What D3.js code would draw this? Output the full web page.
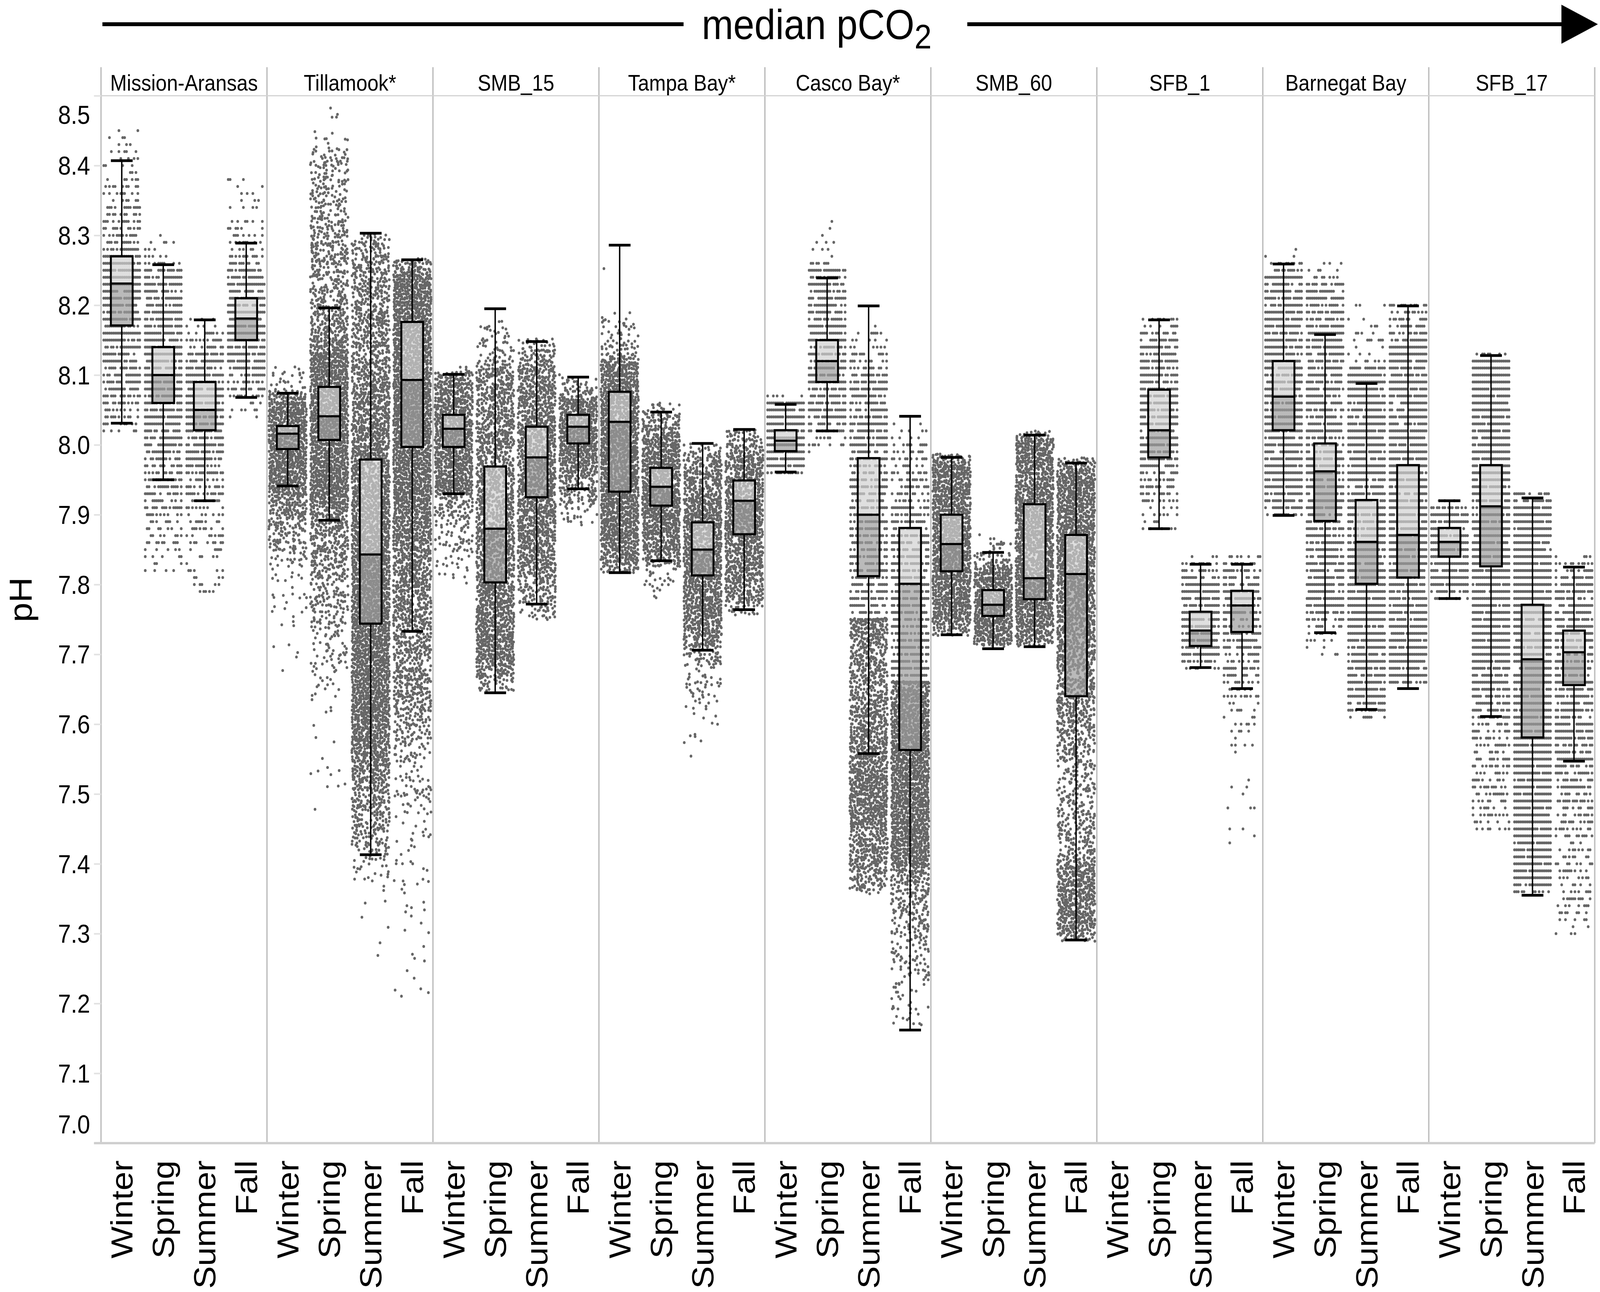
<!DOCTYPE html>
<html>
<head>
<meta charset="utf-8">
<script src="https://cdn.jsdelivr.net/npm/d3@7"></script>
<style>
  html, body { margin: 0; padding: 0; background: #fff; overflow: hidden; }
  #chart svg { display: block; width: 100vw; height: 100vh; }
  svg text { font-family: "Liberation Sans", Arial, sans-serif; }
</style>
</head>
<body>
<div id="chart"></div>
<script>
// Sites ordered by median pCO2, seasons inside each site
var sites = ["Mission-Aransas", "Tillamook*", "SMB_15", "Tampa Bay*", "Casco Bay*",
             "SMB_60", "SFB_1", "Barnegat Bay", "SFB_17"];
var seasons = ["Winter", "Spring", "Summer", "Fall"];
var yTicks = [7.0, 7.1, 7.2, 7.3, 7.4, 7.5, 7.6, 7.7, 7.8, 7.9, 8.0, 8.1, 8.2, 8.3, 8.4, 8.5];

// box statistics, one row per site: [Winter, Spring, Summer, Fall]
var whiskerHigh = [
  [8.407, 8.258, 8.179, 8.289], [8.074, 8.196, 8.303, 8.265], [8.101, 8.195, 8.148, 8.097],
  [8.286, 8.047, 8.002, 8.022], [8.058, 8.239, 8.199, 8.041], [7.982, 7.846, 8.014, 7.974],
  [null, 8.179, 7.829, 7.829], [8.259, 8.158, 8.088, 8.199], [7.920, 8.128, 7.924, 7.825]];
var upperQuartile = [
  [8.270, 8.140, 8.090, 8.210], [8.027, 8.083, 7.979, 8.176], [8.043, 7.969, 8.026, 8.043],
  [8.076, 7.967, 7.889, 7.949], [8.021, 8.150, 7.981, 7.881], [7.900, 7.792, 7.915, 7.871],
  [null, 8.079, 7.761, 7.791], [8.120, 8.002, 7.921, 7.971], [7.881, 7.971, 7.771, 7.734]];
var medians = [
  [8.231, 8.100, 8.050, 8.181], [8.016, 8.041, 7.843, 8.093], [8.023, 7.880, 7.982, 8.026],
  [8.033, 7.940, 7.850, 7.920], [8.006, 8.120, 7.900, 7.801], [7.858, 7.771, 7.809, 7.815],
  [null, 8.021, 7.734, 7.770], [8.069, 7.962, 7.861, 7.871], [7.861, 7.912, 7.693, 7.703]];
var lowerQuartile = [
  [8.171, 8.060, 8.021, 8.150], [7.994, 8.007, 7.744, 7.997], [7.997, 7.803, 7.925, 8.002],
  [7.933, 7.913, 7.813, 7.872], [7.991, 8.090, 7.812, 7.563], [7.819, 7.755, 7.779, 7.640],
  [null, 7.982, 7.712, 7.732], [8.021, 7.891, 7.801, 7.810], [7.840, 7.826, 7.581, 7.656]];
var whiskerLow = [
  [8.031, 7.950, 7.920, 8.068], [7.941, 7.892, 7.413, 7.733], [7.930, 7.645, 7.772, 7.937],
  [7.817, 7.834, 7.706, 7.764], [7.961, 8.020, 7.558, 7.162], [7.728, 7.708, 7.711, 7.291],
  [null, 7.880, 7.681, 7.651], [7.899, 7.731, 7.621, 7.651], [7.780, 7.611, 7.355, 7.547]];

// observation clouds: [pH, share of the column width covered], top to bottom
var cloudKnots = [
  [ [[8.45,0.12],[8.40,0.25],[8.35,0.45],[8.30,0.75],[8.25,0.9],[8.15,0.9],[8.08,0.7],[8.03,0.4],[8.02,0.2]],
    [[8.31,0.08],[8.27,0.3],[8.24,0.7],[8.10,0.9],[8.00,0.8],[7.95,0.6],[7.90,0.45],[7.85,0.35],[7.82,0.2]],
    [[8.18,0.2],[8.15,0.5],[8.12,0.8],[8.00,0.85],[7.95,0.6],[7.90,0.4],[7.85,0.3],[7.79,0.15]],
    [[8.38,0.08],[8.33,0.15],[8.30,0.35],[8.26,0.6],[8.22,0.85],[8.12,0.85],[8.08,0.5],[8.04,0.2]] ],
  [ [[8.11,0.05],[8.08,0.2],[8.06,0.95],[7.98,1],[7.94,0.85],[7.90,0.5],[7.85,0.3],[7.82,0.08],[7.70,0.01],[7.63,0.006]],
    [[8.51,0.02],[8.45,0.02],[8.40,0.3],[8.30,0.4],[8.20,0.5],[8.14,0.75],[8.13,1],[7.93,1],[7.90,0.65],[7.80,0.4],[7.72,0.18],[7.65,0.03],[7.47,0.02]],
    [[8.30,0.3],[8.25,0.5],[8.15,0.6],[8.05,0.75],[7.95,0.9],[7.85,1],[7.62,1],[7.55,0.8],[7.45,0.35],[7.41,0.12],[7.30,0.01],[7.25,0.006]],
    [[8.265,0.35],[8.24,1],[7.92,1],[7.85,0.8],[7.75,0.6],[7.63,0.5],[7.55,0.14],[7.40,0.05],[7.30,0.02],[7.21,0.02]] ],
  [ [[8.11,0.1],[8.09,0.85],[7.94,0.95],[7.92,0.45],[7.85,0.22],[7.80,0.1]],
    [[8.18,0.05],[8.13,0.25],[8.10,0.55],[7.95,0.7],[7.80,0.8],[7.70,0.85],[7.67,0.55],[7.645,0.2]],
    [[8.15,0.25],[8.12,0.55],[8.08,0.75],[7.90,0.85],[7.82,0.65],[7.78,0.4],[7.75,0.15]],
    [[8.10,0.1],[8.07,0.55],[8.06,0.95],[7.98,0.95],[7.95,0.5],[7.90,0.2],[7.885,0.1]] ],
  [ [[8.29,0.01],[8.20,0.01],[8.13,0.35],[8.11,0.95],[7.87,1],[7.83,0.75],[7.815,0.3]],
    [[8.06,0.1],[8.03,0.55],[8.00,0.95],[7.87,0.95],[7.84,0.55],[7.82,0.15],[7.78,0.02]],
    [[8.00,0.25],[7.96,0.65],[7.90,0.9],[7.75,0.9],[7.71,0.55],[7.68,0.15],[7.60,0.05],[7.54,0.02]],
    [[8.02,0.3],[7.98,0.75],[7.90,0.9],[7.80,0.75],[7.77,0.5],[7.755,0.2]] ],
  [ [[8.07,0.3],[8.06,0.9],[7.97,0.9],[7.96,0.5]],
    [[8.32,0.05],[8.27,0.1],[8.26,0.4],[8.25,0.8],[8.04,0.8],[8.02,0.5],[7.99,0.05]],
    [[8.17,0.05],[8.14,0.5],[8.10,0.7],[8.05,0.8],[7.95,0.75],[7.75,0.75],[7.70,0.55],[7.60,0.75],[7.50,0.95],[7.45,0.8],[7.38,0.55],[7.355,0.2]],
    [[8.03,0.1],[8.00,0.4],[7.95,0.6],[7.80,0.75],[7.66,0.8],[7.62,1],[7.40,1],[7.38,0.5],[7.30,0.25],[7.20,0.15],[7.17,0.1]] ],
  [ [[7.985,0.45],[7.97,0.95],[7.75,0.95],[7.73,0.45],[7.725,0.1]],
    [[7.87,0.05],[7.83,0.35],[7.82,0.95],[7.72,0.95],[7.71,0.3]],
    [[8.02,0.35],[8.00,0.9],[7.75,0.95],[7.72,0.6],[7.71,0.2]],
    [[7.98,0.45],[7.96,0.95],[7.78,0.9],[7.70,0.65],[7.60,0.5],[7.50,0.35],[7.42,0.4],[7.38,0.85],[7.31,0.85],[7.29,0.3]] ],
  [ [],
    [[8.18,0.3],[8.16,0.5],[8.12,0.8],[7.97,0.8],[7.92,0.5],[7.88,0.3]],
    [[7.835,0.3],[7.82,0.6],[7.80,0.85],[7.70,0.85],[7.68,0.5]],
    [[7.835,0.3],[7.82,0.6],[7.70,0.7],[7.66,0.5],[7.64,0.3],[7.60,0.2],[7.55,0.06],[7.43,0.05]] ],
  [ [[8.275,0.15],[8.26,0.35],[8.24,0.9],[7.92,0.9],[7.90,0.6],[7.895,0.3]],
    [[8.255,0.2],[8.24,0.45],[8.22,0.8],[7.76,0.85],[7.73,0.4],[7.69,0.05]],
    [[8.20,0.05],[8.14,0.2],[8.12,0.4],[8.10,0.9],[7.64,0.9],[7.62,0.5],[7.605,0.3]],
    [[8.20,0.3],[8.18,0.5],[8.14,0.9],[7.67,0.9],[7.655,0.5]] ],
  [ [[7.92,0.3],[7.90,0.9],[7.80,0.9],[7.78,0.4]],
    [[8.13,0.4],[8.12,0.95],[7.70,0.95],[7.60,0.6],[7.50,0.5],[7.45,0.3]],
    [[7.925,0.4],[7.91,0.95],[7.38,0.95],[7.36,0.5]],
    [[7.84,0.2],[7.83,0.5],[7.80,0.8],[7.55,0.8],[7.45,0.45],[7.35,0.35],[7.30,0.15]] ] ];

// readings reported to 0.01 pH show as rows above this pH; 9 = none, 0 = all
var rowsAbove = [[0, 0, 0, 0], [9, 9, 9, 9], [9, 9, 9, 9], [9, 9, 9, 9], [0, 0, 7.75, 7.66],
                 [9, 9, 9, 9], [0, 0, 0, 0], [0, 0, 0, 0], [0, 0, 0, 0]];

var svgWidth = 4562;
var svgHeight = 3307;
var plot = { left: 288, right: 4547, top: 245, bottom: 2926, header: 172 };

var svg = d3.select("#chart")
  .append("svg")
  .attr("viewBox", `0 0 ${svgWidth} ${svgHeight}`)
  .attr("preserveAspectRatio", "none");

var x0 = d3.scaleBand().domain(sites).range([plot.left, plot.right]);
var x1 = d3.scaleBand().domain(seasons).range([0, x0.bandwidth()]);
var y = d3.scaleLinear().domain([7.0, 8.5]).range([plot.bottom, plot.top]);

var cloudW = 108, boxW = 62, dotR = 3.8;

// ordered dither so the density bands read as scattered points
function dither(a, b, c) {
  var h = (a * 374761393 + b * 668265263 + c * 1274126177) | 0;
  h = Math.imul(h ^ (h >>> 13), 1274126177);
  h = h ^ (h >>> 16);
  return (h >>> 0) / 4294967296;
}

var dots = [];
sites.forEach(function(site, si) {
  seasons.forEach(function(season, qi) {
    var knots = cloudKnots[si][qi];
    if (!knots.length) return;
    var dens = d3.scaleLinear()
      .domain(knots.map(k => k[0]))
      .range(knots.map(k => k[1]))
      .clamp(true);
    var top = knots[0][0], bottom = knots[knots.length - 1][0];
    var left = x0(site) + x1(season) + (x1.bandwidth() - cloudW) / 2;
    var seed = si * 4 + qi + 1;
    var split = rowsAbove[si][qi];
    // rows of 0.01 readings
    if (split < top) {
      var n = 20, sp = cloudW / n;
      for (var lv = Math.round(top * 100); lv >= Math.ceil(Math.max(bottom, split) * 100 - 1e-6); lv--) {
        var ph = lv / 100, d = dens(ph);
        for (var k = 0; k < n; k++) {
          if (dither(k, lv, seed) < d) dots.push({ x: left + (k + 0.5) * sp, ph: ph });
        }
      }
    }
    // continuous readings
    var sTop = Math.min(top, split);
    if (sTop > bottom) {
      var m = 18, sw = cloudW / m, step = 0.0035;
      for (var r = 0; sTop - r * step >= bottom; r++) {
        var p = sTop - r * step, dd = dens(p);
        for (var j = 0; j < m; j++) {
          if (dither(j, r, seed) < dd) {
            dots.push({
              x: left + (j + 0.5) * sw + (dither(j, r, seed + 101) - 0.5) * sw * 0.9,
              ph: p + (dither(j, r, seed + 211) - 0.5) * step
            });
          }
        }
      }
    }
  });
});

// frame: panel separators, plot top line, bottom axis line
svg.append("g")
  .selectAll("line")
  .data(sites.map(s => x0(s)).concat([plot.right]))
  .join("line")
  .attr("x1", d => d).attr("x2", d => d)
  .attr("y1", plot.header).attr("y2", plot.bottom)
  .attr("stroke", "#bfbfbf").attr("stroke-width", 4);

svg.append("line")
  .attr("x1", plot.left).attr("x2", plot.right)
  .attr("y1", plot.top).attr("y2", plot.top)
  .attr("stroke", "#d2d2d2").attr("stroke-width", 3);

// y axis
var yAxis = svg.append("g")
  .attr("transform", `translate(${plot.left},0)`)
  .call(d3.axisLeft(y).tickValues(yTicks).tickSize(20).tickPadding(11).tickFormat(d3.format(".1f")));
yAxis.select(".domain").remove();
yAxis.selectAll(".tick line").attr("stroke", "#e2e2e2").attr("stroke-width", 4);
yAxis.selectAll(".tick text")
  .attr("font-size", 66)
  .attr("fill", "#000")
  .attr("font-family", "Liberation Sans, Arial, sans-serif")
  .attr("dy", d => d === 8.5 ? "1.08em" : d === 7.0 ? "-0.38em" : "0.35em");

svg.append("line")
  .attr("x1", plot.left - 20).attr("x2", plot.right)
  .attr("y1", plot.bottom).attr("y2", plot.bottom)
  .attr("stroke", "#cfcfcf").attr("stroke-width", 6);

// points
svg.append("g")
  .selectAll("circle")
  .data(dots)
  .join("circle")
  .attr("cx", d => d.x)
  .attr("cy", d => y(d.ph))
  .attr("r", dotR)
  .attr("fill", "#666666");

// box plots
var boxes = [];
sites.forEach(function(site, si) {
  seasons.forEach(function(season, qi) {
    if (medians[si][qi] == null) return;
    boxes.push({
      cx: x0(site) + x1(season) + x1.bandwidth() / 2,
      hi: whiskerHigh[si][qi], q3: upperQuartile[si][qi], med: medians[si][qi],
      q1: lowerQuartile[si][qi], lo: whiskerLow[si][qi]
    });
  });
});

var bg = svg.append("g").selectAll("g").data(boxes).join("g");
bg.append("line")
  .attr("x1", d => d.cx).attr("x2", d => d.cx)
  .attr("y1", d => y(d.hi)).attr("y2", d => y(d.q3))
  .attr("stroke", "#000").attr("stroke-width", 4);
bg.append("line")
  .attr("x1", d => d.cx).attr("x2", d => d.cx)
  .attr("y1", d => y(d.q1)).attr("y2", d => y(d.lo))
  .attr("stroke", "#000").attr("stroke-width", 4);
bg.selectAll(".cap")
  .data(d => [{ cx: d.cx, v: d.hi }, { cx: d.cx, v: d.lo }])
  .join("line")
  .attr("class", "cap")
  .attr("x1", d => d.cx - boxW / 2).attr("x2", d => d.cx + boxW / 2)
  .attr("y1", d => y(d.v)).attr("y2", d => y(d.v))
  .attr("stroke", "#000").attr("stroke-width", 7);
bg.append("rect")
  .attr("x", d => d.cx - boxW / 2).attr("width", boxW)
  .attr("y", d => y(d.q3)).attr("height", d => y(d.med) - y(d.q3))
  .attr("fill", "#d2d2d2").attr("fill-opacity", 0.7);
bg.append("rect")
  .attr("x", d => d.cx - boxW / 2).attr("width", boxW)
  .attr("y", d => y(d.med)).attr("height", d => y(d.q1) - y(d.med))
  .attr("fill", "#9c9c9c").attr("fill-opacity", 0.7);
bg.append("rect")
  .attr("x", d => d.cx - boxW / 2).attr("width", boxW)
  .attr("y", d => y(d.q3)).attr("height", d => y(d.q1) - y(d.q3))
  .attr("fill", "none").attr("stroke", "#000").attr("stroke-width", 5.5);
bg.append("line")
  .attr("x1", d => d.cx - boxW / 2).attr("x2", d => d.cx + boxW / 2)
  .attr("y1", d => y(d.med)).attr("y2", d => y(d.med))
  .attr("stroke", "#000").attr("stroke-width", 5.5);

// panel headers
svg.append("g")
  .selectAll("text")
  .data(sites)
  .join("text")
  .attr("x", d => x0(d) + x0.bandwidth() / 2)
  .attr("y", 212)
  .attr("dy", "0.35em")
  .attr("text-anchor", "middle")
  .attr("font-size", 57)
  .text(d => d);

// season labels
var seasonLabels = [];
sites.forEach(site => seasons.forEach(season => seasonLabels.push({ site: site, season: season })));
svg.append("g")
  .selectAll("text")
  .data(seasonLabels)
  .join("text")
  .attr("transform", d => `translate(${x0(d.site) + x1(d.season) + x1.bandwidth() / 2}, ${plot.bottom + 44}) rotate(-90)`)
  .attr("dy", "0.35em")
  .attr("text-anchor", "end")
  .attr("font-size", 87)
  .text(d => d.season);

// y axis title
svg.append("text")
  .attr("transform", "translate(90, 1535) rotate(-90)")
  .attr("text-anchor", "middle")
  .attr("font-size", 90)
  .text("pH");

// top arrow: median pCO2
svg.append("line")
  .attr("x1", 292).attr("x2", 1949).attr("y1", 62).attr("y2", 62)
  .attr("stroke", "#000").attr("stroke-width", 10);
svg.append("line")
  .attr("x1", 2758).attr("x2", 4460).attr("y1", 62).attr("y2", 62)
  .attr("stroke", "#000").attr("stroke-width", 10);
svg.append("path")
  .attr("d", "M4452,12 L4556,62 L4452,112 Z")
  .attr("fill", "#000");
var title = svg.append("text")
  .attr("x", 2001).attr("y", 100)
  .attr("font-size", 108);
title.append("tspan").text("median pCO");
title.append("tspan").attr("font-size", 88).attr("dy", 24).text("2");
</script>
</body>
</html>
